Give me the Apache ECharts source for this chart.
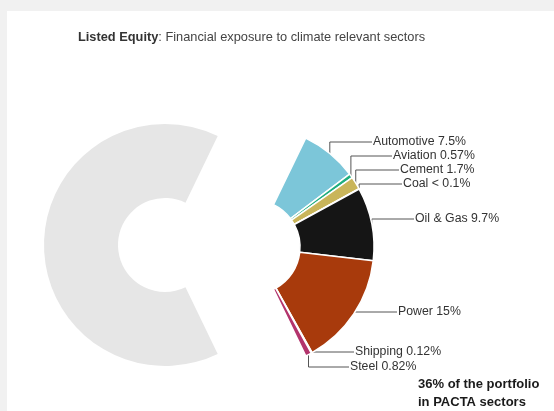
<!DOCTYPE html>
<html>
<head>
<meta charset="utf-8">
<script src="https://cdn.jsdelivr.net/npm/echarts@6/dist/echarts.min.js"></script>
<style>html,body{margin:0;padding:0;background:#f1f1f1}#c{width:554px;height:411px}</style>
</head>
<body>
<div id="c"></div>
<script>
// ---- data ----
var sectors = ['Automotive', 'Aviation', 'Cement', 'Coal', 'Oil & Gas', 'Power', 'Shipping', 'Steel'];
var shares  = [7.5, 0.57, 1.7, 0.05, 9.7, 15, 0.12, 0.82];
var otherName = 'Other';
var otherShare = 64;
var titleBold = 'Listed Equity';
var titleRest = ': Financial exposure to climate relevant sectors';
var noteLines = ['36% of the portfolio', 'in PACTA sectors'];

// ---- styles / layout ----
var colors = ['#7cc6d9', '#1fae7e', '#c9b55a', '#777777', '#151515', '#a83a0c', '#f0dca8', '#b3346c'];
var greyColor = '#e6e6e6';
var labelPos = [[373,142],[393,156],[400,170],[403,184],[415,219],[398,312],[355,352],[350,367]];
var total = otherShare; shares.forEach(function(v){ total += v; });
var startAng = (total - otherShare) / total * 360 / 2;

function fmt(v){ return v < 0.1 ? '< 0.1%' : v + '%'; }

var greyData = sectors.map(function(n, i){
  return {name: n, value: shares[i], itemStyle: {color: 'transparent', borderWidth: 0}, label: {show: false}, labelLine: {show: false}};
});
greyData.push({name: otherName, value: otherShare, itemStyle: {color: greyColor}, label: {show: false}, labelLine: {show: false}});

var colData = sectors.map(function(n, i){
  return {name: n, value: shares[i], itemStyle: {color: colors[i]}};
});
colData.push({name: otherName, value: otherShare, itemStyle: {color: 'transparent', borderWidth: 0}, label: {show: false}, labelLine: {show: false}});

var FF = '"Liberation Sans", Arial, sans-serif';
var chart = echarts.init(document.getElementById('c'), null, {renderer: 'canvas'});
chart.setOption({
  backgroundColor: '#f1f1f1',
  animation: false,
  graphic: [
    {type: 'rect', left: 7, top: 11, shape: {width: 560, height: 410}, style: {fill: '#ffffff'}, z: -10},
    {type: 'text', left: 418, top: 375, style: {text: noteLines.join('\n'), fill: '#1a1a1a', font: 'bold 13px ' + FF, lineHeight: 18}}
  ],
  title: {
    text: '{b|' + titleBold + '}{r|' + titleRest + '}',
    left: 73, top: 26,
    textStyle: {
      rich: {
        b: {fontWeight: 'bold', fontSize: 12.8, color: '#333', fontFamily: FF},
        r: {fontWeight: 'normal', fontSize: 12.8, color: '#444', fontFamily: FF}
      }
    }
  },
  series: [
    {
      type: 'pie', silent: true,
      center: [165, 245], radius: [47, 121],
      startAngle: startAng, clockwise: true,
      data: greyData,
      label: {show: false}, labelLine: {show: false}
    },
    {
      type: 'pie', silent: true,
      center: [253, 247], radius: [47, 121],
      startAngle: startAng, clockwise: true,
      avoidLabelOverlap: false,
      itemStyle: {borderColor: '#ffffff', borderWidth: 1.5},
      data: colData,
      label: {
        show: true, position: 'outside', color: '#333', fontSize: 12.3,
        fontFamily: FF,
        formatter: function(p){ return p.name + ' ' + fmt(p.value); }
      },
      labelLine: {show: true, length: 10, length2: 10, lineStyle: {color: '#555', width: 1}},
      labelLayout: function(params){
        var pos = labelPos[params.dataIndex];
        if (!pos) return {};
        var res = {x: pos[0], y: pos[1], align: 'left', verticalAlign: 'middle'};
        var pts = params.labelLinePoints;
        if (pts && pts.length) {
          var p0 = pts[0];
          res.labelLinePoints = [[p0[0], p0[1]], [p0[0], pos[1]], [pos[0] - 1, pos[1]]];
        }
        return res;
      }
    }
  ]
});
</script>
</body>
</html>
